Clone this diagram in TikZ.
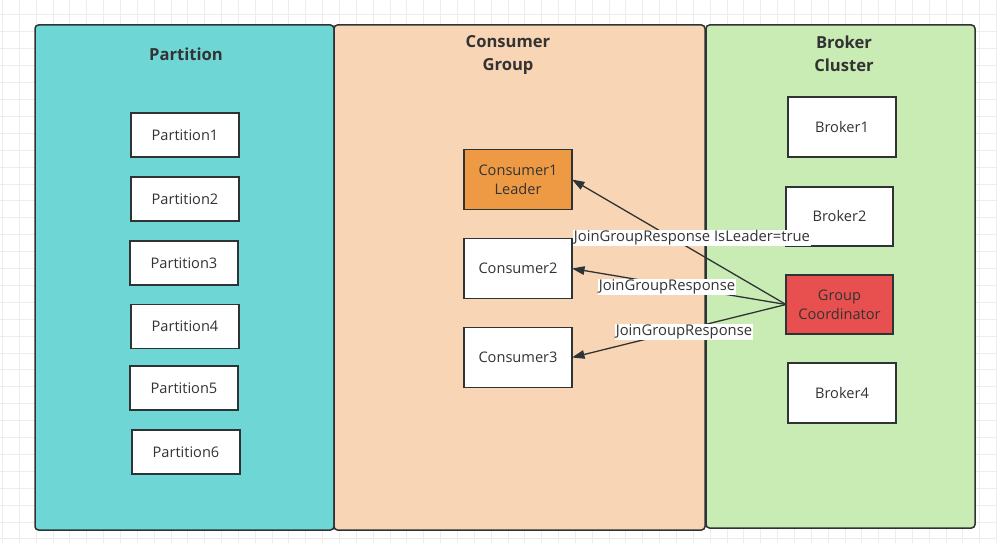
\documentclass[tikz,border=0pt]{standalone}
\usepackage{fontspec}
\setmainfont{Open Sans}
\usetikzlibrary{arrows.meta}
\definecolor{gridc}{HTML}{EDEDED}
\definecolor{linec}{HTML}{2E3335}
\definecolor{textc}{HTML}{333333}
\definecolor{tealc}{HTML}{6FD6D6}
\definecolor{peachc}{HTML}{F8D5B5}
\definecolor{greenc}{HTML}{C9EBB4}
\definecolor{orangec}{HTML}{EE9A45}
\definecolor{redc}{HTML}{E84F4F}
\tikzset{
  panel/.style={draw=linec, line width=1.5pt, rounded corners=3.5pt, inner sep=0pt, outer sep=0pt, anchor=north west},
  title/.style={font=\fontsize{16.6}{22.5}\selectfont\bfseries, text=textc, align=center},
  box/.style={draw=linec, line width=1.3pt, fill=white, inner sep=0pt, outer sep=0pt, text=textc, align=center, font=\fontsize{14.6}{19}\selectfont},
  pbox/.style={box, minimum width=108pt, minimum height=44pt},
  cbox/.style={box, minimum width=108pt, minimum height=60pt},
  arr/.style={draw=linec, line width=1.3pt, -{Triangle[length=12.5pt,width=8.5pt]}},
  lbl/.style={fill=white, inner sep=1pt, text=textc, font=\fontsize{14.8}{17}\selectfont}
}
\begin{document}
\begin{tikzpicture}[x=1pt,y=-1pt]
\useasboundingbox (0,0) rectangle (997,543);
\fill[white] (0,0) rectangle (997,543);
\foreach \i in {0,...,59} \draw[gridc, line width=1pt] ({2.5+16.85*\i},0) -- ++(0,543);
\foreach \j in {0,...,32} \draw[gridc, line width=1pt] (0,{15-16.9+16.9*\j}) -- ++(997,0);

% panels
\node[panel, fill=tealc, minimum width=299pt, minimum height=505pt] (ppanel) at (35,25) {};
\node[panel, fill=peachc, minimum width=371pt, minimum height=505pt] (cpanel) at (334,25) {};
\node[panel, fill=greenc, minimum width=269pt, minimum height=503pt] (bpanel) at (706,25) {};

\node[title] (ptitle) at (186,54.5) {Partition};
\node[title] (ctitle) at (508,55) {Consumer\\Group};
\node[title] (btitle) at (844,54) {Broker\\Cluster};

% partitions
\node[pbox] (p1) at (185,135) {Partition1};
\node[pbox] (p2) at (185,199) {Partition2};
\node[pbox] (p3) at (184,263) {Partition3};
\node[pbox] (p4) at (185,326.5) {Partition4};
\node[pbox] (p5) at (184,388) {Partition5};
\node[pbox] (p6) at (186,452) {Partition6};

% consumers
\node[cbox, fill=orangec] (c1) at (518,179.5) {Consumer1\\Leader};
\node[cbox] (c2) at (518,268.5) {Consumer2};
\node[cbox] (c3) at (518,357.5) {Consumer3};

% brokers
\node[cbox] (b1) at (842,127) {Broker1};
\node[cbox, minimum width=107pt, minimum height=59pt] (b2) at (839.5,216.5) {Broker2};
\node[cbox, fill=redc, minimum width=107pt, minimum height=59pt] (gc) at (839.5,304.5) {Group\\Coordinator};
\node[cbox] (b4) at (842,393) {Broker4};

% arrows
\draw[arr] (gc.west) -- (c1.east);
\draw[arr] (gc.west) -- (c2.east);
\draw[arr] (gc.west) -- (c3.east);

\node[lbl] (l1) at (692,238) {JoinGroupResponse IsLeader=true};
\node[lbl] (l2) at (667,287) {JoinGroupResponse};
\node[lbl] (l3) at (684,332) {JoinGroupResponse};
\end{tikzpicture}
\end{document}
